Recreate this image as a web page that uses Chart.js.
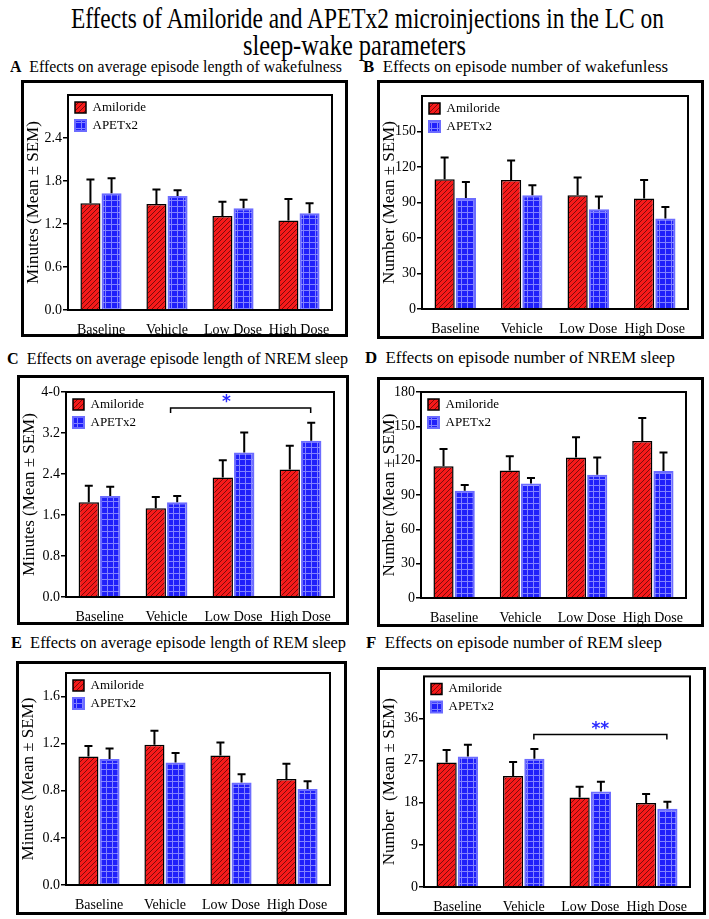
<!DOCTYPE html>
<html>
<head>
<meta charset="utf-8">
<script src="https://cdn.jsdelivr.net/npm/chart.js@4.4.0/dist/chart.umd.min.js"></script>
<style>
  body { margin: 0; background: #fff; width: 709px; height: 919px; position: relative; overflow: hidden;
         font-family: "Liberation Serif", "Times New Roman", serif; color: #000; }
  .title { position: absolute; left: 0; width: 709px; text-align: center; font-size: 29px; line-height: 28px; white-space: nowrap; }
  .title span { display: inline-block; transform-origin: center; }
  .label { position: absolute; font-size: 17px; line-height: 20px; white-space: nowrap; transform-origin: left center; }
  .panel { position: absolute; }
  .panel .frame { position: absolute; left: 0; top: 0; right: 0; bottom: 0; border: 3px solid #000; box-sizing: border-box; pointer-events: none; }
  .panel canvas { position: absolute; left: 0; top: 0; }
</style>
</head>
<body>
<div class="title" style="top:4px"><span data-w="593">Effects of Amiloride and APETx2 microinjections in the LC on</span></div>
<div class="title" style="top:31px"><span data-w="223">sleep-wake parameters</span></div>

<div class="label" style="left:10px;top:57px" data-w="332"><b>A</b>&nbsp;&nbsp;Effects on average episode length of wakefulness</div>
<div class="label" style="left:363px;top:57px" data-w="305"><b>B</b>&nbsp;&nbsp;Effects on episode number of wakefunless</div>
<div class="label" style="left:7px;top:349px" data-w="341"><b>C</b>&nbsp;&nbsp;Effects on average episode length of NREM sleep</div>
<div class="label" style="left:365px;top:348px" data-w="310"><b>D</b>&nbsp;&nbsp;Effects on episode number of NREM sleep</div>
<div class="label" style="left:11px;top:633px" data-w="335"><b>E</b>&nbsp;&nbsp;Effects on average episode length of REM sleep</div>
<div class="label" style="left:366px;top:633px" data-w="296"><b>F</b>&nbsp;&nbsp;Effects on episode number of REM sleep</div>

<div class="panel" id="pA"><canvas id="cA"></canvas><div class="frame"></div></div>
<div class="panel" id="pB"><canvas id="cB"></canvas><div class="frame"></div></div>
<div class="panel" id="pC"><canvas id="cC"></canvas><div class="frame"></div></div>
<div class="panel" id="pD"><canvas id="cD"></canvas><div class="frame"></div></div>
<div class="panel" id="pE"><canvas id="cE"></canvas><div class="frame"></div></div>
<div class="panel" id="pF"><canvas id="cF"></canvas><div class="frame"></div></div>

<script>
const categories = ['Baseline', 'Vehicle', 'Low Dose', 'High Dose'];

// A: average episode length of wakefulness (min)
const wakeLenAmi = [1.49, 1.48, 1.31, 1.25];
const wakeLenAmiSem = [0.33, 0.20, 0.20, 0.30];
const wakeLenApe = [1.63, 1.59, 1.42, 1.35];
const wakeLenApeSem = [0.21, 0.08, 0.12, 0.14];
const wakeLenTicks = [0, 0.6, 1.2, 1.8, 2.4];
const wakeLenTickLabels = ['0.0', '0.6', '1.2', '1.8', '2.4'];

// B: episode number of wakefulness
const wakeNumAmi = [109.7, 109.1, 96.2, 93.3];
const wakeNumAmiSem = [18.3, 16.4, 14.9, 15.7];
const wakeNumApe = [93.7, 96.2, 84.3, 76.4];
const wakeNumApeSem = [13.7, 8.4, 10.7, 9.9];
const wakeNumTicks = [0, 30, 60, 90, 120, 150];
const wakeNumTickLabels = ['0', '30', '60', '90', '120', '150'];

// C: average episode length of NREM sleep (min)
const nremLenAmi = [1.85, 1.73, 2.33, 2.49];
const nremLenAmiSem = [0.32, 0.22, 0.34, 0.46];
const nremLenApe = [1.97, 1.85, 2.82, 3.05];
const nremLenApeSem = [0.18, 0.12, 0.39, 0.35];
const nremLenTicks = [0, 0.8, 1.6, 2.4, 3.2, 4.0];
const nremLenTickLabels = ['0.0', '0.8', '1.6', '2.4', '3.2', '4-0'];

// D: episode number of NREM sleep
const nremNumAmi = [115.1, 111.3, 122.7, 137.2];
const nremNumAmiSem = [15.1, 12.5, 17.7, 20.1];
const nremNumApe = [93.8, 100.0, 107.8, 111.0];
const nremNumApeSem = [5.0, 4.9, 14.9, 16.1];
const nremNumTicks = [0, 30, 60, 90, 120, 150, 180];
const nremNumTickLabels = ['0', '30', '60', '90', '120', '150', '180'];

// E: average episode length of REM sleep (min)
const remLenAmi = [1.09, 1.19, 1.10, 0.90];
const remLenAmiSem = [0.09, 0.12, 0.11, 0.13];
const remLenApe = [1.07, 1.04, 0.87, 0.815];
const remLenApeSem = [0.09, 0.08, 0.07, 0.065];
const remLenTicks = [0, 0.4, 0.8, 1.2, 1.6];
const remLenTickLabels = ['0.0', '0.4', '0.8', '1.2', '1.6'];

// F: episode number of REM sleep
const remNumAmi = [26.6, 23.7, 19.15, 17.96];
const remNumAmiSem = [2.7, 3.0, 2.25, 1.9];
const remNumApe = [27.9, 27.4, 20.4, 16.7];
const remNumApeSem = [2.5, 2.1, 2.1, 1.5];
const remNumTicks = [0, 9, 18, 27, 36];
const remNumTickLabels = ['0', '9', '18', '27', '36'];

// scale text blocks to the widths seen in the figure
document.querySelectorAll('[data-w]').forEach(el => {
  const w = el.getBoundingClientRect().width;
  el.style.transform = 'scaleX(' + (+el.dataset.w / w) + ')';
});

function redHatch() {
  const c = document.createElement('canvas');
  c.width = 5; c.height = 5;
  const g = c.getContext('2d');
  g.fillStyle = '#f61a1a';
  g.fillRect(0, 0, 5, 5);
  g.strokeStyle = '#6e0a0a';
  g.lineWidth = 0.9;
  g.beginPath();
  g.moveTo(-1, 6); g.lineTo(6, -1);
  g.moveTo(-1, 1); g.lineTo(1, -1);
  g.moveTo(4, 6); g.lineTo(6, 4);
  g.stroke();
  return g.createPattern(c, 'repeat');
}

function blueGrid() {
  const c = document.createElement('canvas');
  c.width = 6; c.height = 6;
  const g = c.getContext('2d');
  g.fillStyle = '#2020fa';
  g.fillRect(0, 0, 6, 6);
  g.fillStyle = '#8282ff';
  g.fillRect(0, 0, 6, 1);
  g.fillRect(0, 0, 1, 6);
  return g.createPattern(c, 'repeat');
}

const errorBars = {
  id: 'errorBars',
  afterDatasetsDraw(chart) {
    const ctx = chart.ctx, y = chart.scales.y;
    ctx.save();
    ctx.strokeStyle = '#000';
    ctx.lineWidth = 2;
    chart.data.datasets.forEach((ds, i) => {
      chart.getDatasetMeta(i).data.forEach((bar, j) => {
        const top = y.getPixelForValue(ds.data[j] + ds.sem[j]);
        ctx.beginPath();
        ctx.moveTo(bar.x, bar.y);
        ctx.lineTo(bar.x, top);
        ctx.moveTo(bar.x - 4, top);
        ctx.lineTo(bar.x + 4, top);
        ctx.stroke();
      });
    });
    ctx.restore();
  }
};

const plotFrame = {
  id: 'plotFrame',
  afterDraw(chart) {
    const a = chart.chartArea, ctx = chart.ctx;
    ctx.save();
    ctx.strokeStyle = '#000';
    ctx.lineWidth = 2;
    ctx.strokeRect(a.left, a.top, a.right - a.left, a.bottom - a.top);
    ctx.restore();
  }
};

// keep the legend tucked into the top-left corner of the plot
const legendPlace = {
  id: 'legendPlace',
  afterLayout(chart) {
    const lg = chart.legend, a = chart.chartArea;
    if (!lg) return;
    const w = lg.right - lg.left, h = lg.bottom - lg.top;
    lg.left = a.left + 2;
    lg.top = a.top + 1;
    lg.right = lg.left + w;
    lg.bottom = lg.top + h;
  }
};

const sigBracket = {
  id: 'sigBracket',
  afterDraw(chart, args, opts) {
    if (!opts || opts.text === undefined) return;
    const ctx = chart.ctx, xs = chart.scales.x, ys = chart.scales.y;
    const w = chart.getDatasetMeta(1).data[0].width;
    const x1 = xs.getPixelForValue(opts.from) + opts.fromShift * w;
    const x2 = xs.getPixelForValue(opts.to) + opts.toShift * w;
    const yy = ys.getPixelForValue(opts.y);
    ctx.save();
    ctx.strokeStyle = '#000';
    ctx.lineWidth = 1.5;
    ctx.beginPath();
    ctx.moveTo(x1, yy + 5);
    ctx.lineTo(x1, yy);
    ctx.lineTo(x2, yy);
    ctx.lineTo(x2, yy + 5);
    ctx.stroke();
    ctx.fillStyle = '#2a2aff';
    ctx.font = 'bold 17px "DejaVu Sans"';
    ctx.textAlign = 'center';
    ctx.textBaseline = 'middle';
    ctx.fillText(opts.text, (x1 + x2) / 2 + opts.textShift * w, yy - 5);
    ctx.restore();
  }
};

const panels = [
  { id: 'A', box: [21, 80, 327, 257], plot: { left: 47, top: 15, right: 16, bottom: 27 },
    ami: wakeLenAmi, amiSem: wakeLenAmiSem, ape: wakeLenApe, apeSem: wakeLenApeSem,
    max: 3.0, ticks: wakeLenTicks, tickLabels: wakeLenTickLabels, yTitle: 'Minutes (Mean \u00b1 SEM)' },
  { id: 'B', box: [377, 80, 327, 259], plot: { left: 45, top: 16, right: 16, bottom: 30 },
    ami: wakeNumAmi, amiSem: wakeNumAmiSem, ape: wakeNumApe, apeSem: wakeNumApeSem,
    max: 180, ticks: wakeNumTicks, tickLabels: wakeNumTickLabels, yTitle: 'Number (Mean \u00b1 SEM)' },
  { id: 'C', box: [17, 375, 332, 250], plot: { left: 49, top: 17, right: 15, bottom: 28 },
    ami: nremLenAmi, amiSem: nremLenAmiSem, ape: nremLenApe, apeSem: nremLenApeSem,
    max: 4.0, ticks: nremLenTicks, tickLabels: nremLenTickLabels, yTitle: 'Minutes (Mean \u00b1 SEM)',
    bracket: { from: 1, to: 3, fromShift: 0.2, toShift: 0.5, textShift: -0.7, y: 3.69, text: '*' } },
  { id: 'D', box: [377, 377, 327, 250], plot: { left: 44, top: 15, right: 18, bottom: 29 },
    ami: nremNumAmi, amiSem: nremNumAmiSem, ape: nremNumApe, apeSem: nremNumApeSem,
    max: 180, ticks: nremNumTicks, tickLabels: nremNumTickLabels, yTitle: 'Number (Mean \u00b1 SEM)' },
  { id: 'E', box: [16, 661, 331, 254], plot: { left: 50, top: 12, right: 17, bottom: 30 },
    ami: remLenAmi, amiSem: remLenAmiSem, ape: remLenApe, apeSem: remLenApeSem,
    max: 1.8, ticks: remLenTicks, tickLabels: remLenTickLabels, yTitle: 'Minutes (Mean \u00b1 SEM)' },
  { id: 'F', box: [377, 667, 329, 248], plot: { left: 47, top: 5, right: 16, bottom: 28 },
    ami: remNumAmi, amiSem: remNumAmiSem, ape: remNumApe, apeSem: remNumApeSem,
    max: 45, ticks: remNumTicks, tickLabels: remNumTickLabels, yTitle: 'Number  (Mean \u00b1 SEM)',
    bracket: { from: 1, to: 3, fromShift: 0.5, toShift: 0.5, textShift: 0, y: 32.6, text: '**' } }
];

const serif = '"Liberation Serif", "Times New Roman", serif';

panels.forEach(p => {
  const wrap = document.getElementById('p' + p.id);
  const [bx, by, bw, bh] = p.box;
  Object.assign(wrap.style, { left: bx + 'px', top: by + 'px', width: bw + 'px', height: bh + 'px' });
  const canvas = document.getElementById('c' + p.id);
  canvas.width = bw;
  canvas.height = bh;

  new Chart(canvas, {
    type: 'bar',
    data: {
      labels: categories,
      datasets: [
        { label: 'Amiloride', data: p.ami, sem: p.amiSem, backgroundColor: redHatch(),
          borderColor: '#000', borderWidth: 1.5 },
        { label: 'APETx2', data: p.ape, sem: p.apeSem, backgroundColor: blueGrid(),
          borderColor: '#6c6cff', borderWidth: 2 }
      ]
    },
    options: {
      responsive: false,
      animation: false,
      categoryPercentage: 0.64,
      barPercentage: 0.95,
      layout: { padding: { top: p.plot.top, right: p.plot.right, left: 0, bottom: 0 } },
      scales: {
        x: {
          grid: { display: false },
          border: { display: false },
          ticks: { color: '#000', font: { family: serif, size: 14 }, padding: 4, maxRotation: 0, autoSkip: false },
          afterFit(s) { s.height = p.plot.bottom; }
        },
        y: {
          min: 0,
          max: p.max,
          grid: { drawOnChartArea: false, color: '#000', lineWidth: 1.5, tickLength: 5 },
          border: { display: false },
          afterBuildTicks(s) { s.ticks = p.ticks.map(v => ({ value: v })); },
          ticks: { color: '#000', font: { family: serif, size: 14 }, padding: 1,
                   callback: (v, i) => p.tickLabels[i] },
          title: { display: true, text: p.yTitle, color: '#000', font: { family: serif, size: 17 },
                   padding: { top: 2, bottom: 0 } },
          afterFit(s) { s.width = p.plot.left; }
        }
      },
      plugins: {
        legend: {
          position: 'chartArea',
          align: 'start',
          labels: { color: '#000', font: { family: serif, size: 13 }, boxWidth: 11, boxHeight: 11, padding: 5 }
        },
        tooltip: { enabled: false },
        sigBracket: p.bracket || false
      }
    },
    plugins: [errorBars, plotFrame, legendPlace, sigBracket]
  });
});
</script>
</body>
</html>
